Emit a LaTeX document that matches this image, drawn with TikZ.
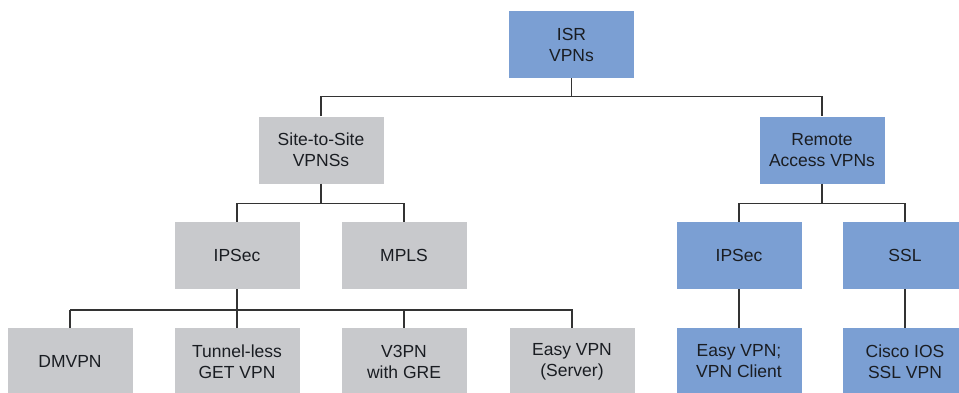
\documentclass[tikz,border=0pt]{standalone}
\usepackage{fontspec}
\setmainfont{Liberation Sans}
\definecolor{boxblue}{HTML}{7B9FD3}
\definecolor{boxgray}{HTML}{C8C9CC}
\definecolor{linegray}{HTML}{333333}
\definecolor{txt}{HTML}{1A1D22}
\begin{document}
\begin{tikzpicture}[x=1pt,y=-1pt,
  box/.style={minimum width=125pt,minimum height=67pt,inner sep=0pt,align=center,
    text=txt,font=\fontsize{17.5}{21}\selectfont},
  bluebox/.style={box,fill=boxblue},
  graybox/.style={box,fill=boxgray},
  conn/.style={draw=linegray,line width=1.4pt}]
\useasboundingbox (0,0) rectangle (959,392);
\clip (0,0) rectangle (959,392);
\node[bluebox] (root) at (571.5,44.5) {ISR\\VPNs};
\node[graybox] (s2s) at (321,150) {Site-to-Site\\VPNSs};
\node[bluebox] (ra) at (822,150) {Remote\\Access VPNs};
\node[graybox] (ipl) at (237,255.5) {IPSec};
\node[graybox] (mpls) at (404,255.5) {MPLS};
\node[bluebox] (ipr) at (739,255.5) {IPSec};
\node[bluebox] (ssl) at (905,255.5) {SSL};
\node[graybox] (dm) at (70,361.5) {DMVPN};
\node[graybox] (tl) at (237,361.5) {Tunnel-less\\GET VPN};
\node[graybox] (v3) at (404,361.5) {V3PN\\with GRE};
\node[graybox] (es) at (572,361.5) {Easy VPN\\(Server)};
\node[bluebox] (ec) at (739,361.5) {Easy VPN;\\VPN Client};
\node[bluebox] (cs) at (905,361.5) {Cisco IOS\\SSL VPN};
% connectors
\draw[conn] (root.south) -- ++(0,18) coordinate (j1);
\draw[conn] (s2s.north) |- (j1) -| (ra.north);
\draw[conn] (s2s.south) -- ++(0,20) coordinate (j2);
\draw[conn] (ipl.north) |- (j2) -| (mpls.north);
\draw[conn] (ra.south) -- ++(0,20) coordinate (j3);
\draw[conn] (ipr.north) |- (j3) -| (ssl.north);
\draw[conn] (dm.north) -- ++(0,-18) coordinate (j4);
\draw[conn] (j4) -| (es.north);
\draw[conn] (ipl.south) -- (tl.north);
\draw[conn] (v3.north) -- (v3.north |- j4);
\draw[conn] (ipr.south) -- (ec.north);
\draw[conn] (ssl.south) -- (cs.north);
\end{tikzpicture}
\end{document}
